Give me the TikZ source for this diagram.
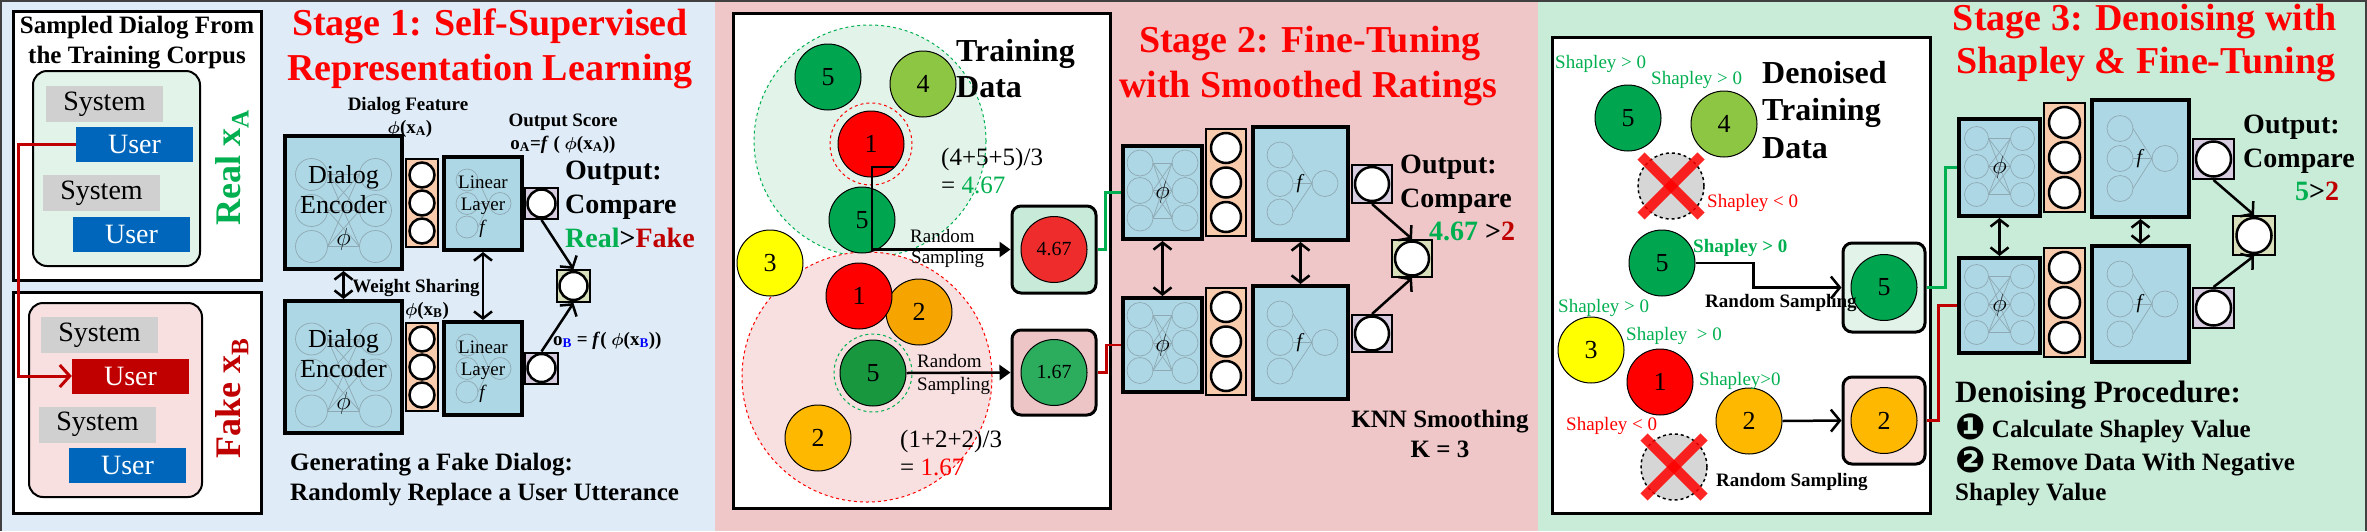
\documentclass[tikz,border=0pt]{standalone}
\usepackage{amsmath}
\usepackage{fontspec}
\setmainfont{Liberation Serif}
\newfontfamily\symfont{DejaVu Sans}
\usetikzlibrary{arrows.meta,calc}

\definecolor{bgone}{HTML}{DFECF7}
\definecolor{bgtwo}{HTML}{EFC7C8}
\definecolor{bgthree}{HTML}{C9ECD9}
\definecolor{mint}{HTML}{E2F4EA}
\definecolor{blush}{HTML}{F8E0E0}
\definecolor{sysgray}{HTML}{D0D0D0}
\definecolor{userblue}{HTML}{0066BB}
\definecolor{darkred}{HTML}{C00000}
\definecolor{okgreen}{HTML}{00B050}
\definecolor{titlered}{HTML}{FF0000}
\definecolor{encblue}{HTML}{ADD7E4}
\definecolor{vecorange}{HTML}{F8CBAD}
\definecolor{outlilac}{HTML}{D8CCE0}
\definecolor{cmpolive}{HTML}{D7DFBB}
\definecolor{netgray}{HTML}{8FA9B4}
\definecolor{rate5}{HTML}{00A64F}
\definecolor{rate5b}{HTML}{18973F}
\definecolor{rate4}{HTML}{8DC643}
\definecolor{rate3}{HTML}{FFFF00}
\definecolor{rate2}{HTML}{F6A500}
\definecolor{rate2b}{HTML}{FFB800}
\definecolor{rate1}{HTML}{FF0000}
\definecolor{smoothred}{HTML}{EE2C2C}
\definecolor{smoothgreen}{HTML}{2CAD5E}
\definecolor{mintbox}{HTML}{C7EBD8}
\definecolor{pinkbox}{HTML}{EDC5C6}

\newcommand\fs[2]{\fontsize{#1}{#2}\selectfont}
\newcommand\titlefont{\fs{38}{38}\bfseries}
\newcommand\blk[6]{\node[#1, minimum width=#5pt, minimum height=#6pt] (#2) at (#3,#4) {};}
\newcommand\encnet[5]{%
  \begin{scope}[shift={(#1.center)}]
    \foreach \i in {-1,0,1} {
      \draw[netline] (-#2,{#5+(\i)*#3}) circle (#4pt);
      \draw[netline] (#2,{#5+(\i)*#3}) circle (#4pt);
      \foreach \j in {-1,0,1}
        \draw[netline] ({-#2+#4},{#5+(\i)*#3}) -- ({#2-#4},{#5+(\j)*#3});
    }
  \end{scope}}
\newcommand\linnet[5]{%
  \begin{scope}[shift={(#1.center)}]
    \draw[netline] (#3,0) circle (#5pt);
    \foreach \i in {-1,0,1} {
      \draw[netline] (-#2,{(\i)*#4}) circle (#5pt);
      \draw[netline] ({-#2+#5},{(\i)*#4}) -- ({#3-#5},0);
    }
  \end{scope}}
\newcommand\vecballs[3]{%
  \foreach \k in {-1,0,1}
    \draw[vball] ([shift={(0,\k*#2)}]#1.center) circle (#3pt);}

\tikzset{
  txt/.style={inner sep=0pt, anchor=base},
  txtl/.style={inner sep=0pt, anchor=base west},
  framebox/.style={draw, line width=3pt, fill=white, inner sep=0pt},
  dialog/.style={draw, line width=2pt, rounded corners=14pt, inner sep=0pt},
  sysbox/.style={fill=sysgray, minimum width=117pt, minimum height=36pt, inner sep=0pt, font=\fs{28}{28}},
  userbox/.style={fill=userblue, text=white, minimum width=117pt, minimum height=35pt, inner sep=0pt, font=\fs{28}{28}},
  encbox/.style={draw, line width=4pt, fill=encblue, inner sep=0pt},
  vecbox/.style={draw, line width=1.5pt, fill=vecorange, inner sep=0pt},
  outbox/.style={draw, line width=2pt, fill=outlilac, inner sep=0pt},
  cmpbox/.style={draw, line width=2pt, fill=cmpolive, inner sep=0pt},
  pickbox/.style={draw, line width=3pt, rounded corners=9pt, inner sep=0pt},
  vball/.style={draw, line width=2.5pt, fill=white},
  netline/.style={draw=netgray, line width=0.7pt},
  ball/.style={circle, draw, line width=1pt, minimum size=66pt, inner sep=0pt, font=\fs{26}{26}},
  gone/.style={circle, draw, dashed, line width=1.5pt, fill=black!16, minimum size=66pt, inner sep=0pt},
  crossx/.style={draw=rate1, line width=10pt, opacity=.85},
  ring/.style={circle, dashed, line width=1pt, inner sep=0pt},
  shp/.style={txtl, font=\fs{19}{19}, text=okgreen},
  shn/.style={txtl, font=\fs{19}{19}, text=rate1},
  replacearrow/.style={draw=darkred, line width=3pt, -{Straight Barb[length=10pt,width=22pt]}},
  flow/.style={line width=2.5pt, -{Straight Barb[length=8pt,width=20pt]}},
  dbl/.style={line width=2.5pt, {Straight Barb[length=7pt,width=18pt]}-{Straight Barb[length=7pt,width=18pt]}},
  sample/.style={line width=2.5pt, -{Triangle[length=11pt,width=15pt]}},
  pick/.style={line width=2.5pt, -{Straight Barb[length=9pt,width=22pt]}},
  linkg/.style={draw=okgreen, line width=2.5pt},
  linkr/.style={draw=darkred, line width=2.5pt},
}

\begin{document}
\begin{tikzpicture}[x=1pt, y=-1pt]
\useasboundingbox (0,0) rectangle (2367,531);

% backgrounds of the three stages
\fill[bgone] (0,0) rectangle (715,531);
\fill[bgtwo] (715,0) rectangle (1538,531);
\fill[bgthree] (1538,0) rectangle (2367,531);
\draw[black!75, line width=2pt] (1,531) -- (1,1) -- (2366,1) -- (2366,531);

% ---------- Stage 1 ----------
\blk{framebox}{corpus}{137}{145.5}{248}{269}
\node[txt, font=\fs{25}{25}\bfseries] (corpustop) at (137,33) {Sampled Dialog From};
\node[txt, font=\fs{25}{25}\bfseries] (corpusbot) at (137,63) {the Training Corpus};
\blk{dialog, fill=mint}{realdlg}{116.5}{168.5}{167}{195}
\node[sysbox] (sys1) at (104.5,104) {System};
\node[userbox] (usr1) at (134.5,144.5) {User};
\node[sysbox] (sys2) at (101.5,193) {System};
\node[userbox] (usr2) at (131.5,234) {User};
\node[rotate=90, inner sep=0pt, font=\fs{36}{36}\bfseries, text=okgreen] (reallbl) at (232,168) {Real x\textsubscript{A}};

\blk{framebox}{fakecorpus}{137}{402.5}{248}{221}
\blk{dialog, fill=blush}{fakedlg}{115.5}{400}{173}{194}
\node[sysbox] (sys3) at (99.5,335) {System};
\node[userbox, fill=darkred] (usr3) at (130.5,376) {User};
\node[sysbox] (sys4) at (97.5,424.5) {System};
\node[userbox] (usr4) at (127.5,465) {User};
\node[rotate=90, inner sep=0pt, font=\fs{36}{36}\bfseries, text=darkred] (fakelbl) at (232,398) {Fake x\textsubscript{B}};
\draw[replacearrow] (usr1.west) -- ++(-57,0) |- (usr3.west);

\node[txt, font=\titlefont, text=titlered] (stageonea) at (490,35) {Stage 1: Self-Supervised};
\node[txt, font=\titlefont, text=titlered] (stageoneb) at (490,80) {Representation Learning};

\blk{encbox}{enc1a}{343.5}{202.5}{117}{133}
\blk{encbox}{enc1b}{343.5}{367}{117}{132}
\encnet{enc1a}{32}{36}{16}{8}
\encnet{enc1b}{32}{36}{16}{8}
\node[txt, font=\fs{26}{26}] (enc1aw1) at (343.5,183) {Dialog};
\node[txt, font=\fs{26}{26}] (enc1aw2) at (343.5,213) {Encoder};
\node[txt, font=\fs{26}{26}] (enc1aw3) at (343.5,245) {$\phi$};
\node[txt, font=\fs{26}{26}] (enc1bw1) at (343.5,347) {Dialog};
\node[txt, font=\fs{26}{26}] (enc1bw2) at (343.5,377) {Encoder};
\node[txt, font=\fs{26}{26}] (enc1bw3) at (343.5,409) {$\phi$};

\blk{vecbox}{vec1a}{422}{203}{32}{88}
\blk{vecbox}{vec1b}{422}{367}{32}{88}
\vecballs{vec1a}{28}{12.5}
\vecballs{vec1b}{28}{12.5}

\blk{encbox}{lin1a}{483}{203.5}{78}{93}
\blk{encbox}{lin1b}{483}{368.5}{78}{93}
\linnet{lin1a}{16}{17}{23.5}{11}
\linnet{lin1b}{16}{17}{23.5}{11}
\node[txt, font=\fs{19}{19}] (lin1aw1) at (483,188) {Linear};
\node[txt, font=\fs{19}{19}] (lin1aw2) at (483,210) {Layer};
\node[txt, font=\fs{19}{19}] (lin1aw3) at (483,233) {\textit{f}};
\node[txt, font=\fs{19}{19}] (lin1bw1) at (483,353) {Linear};
\node[txt, font=\fs{19}{19}] (lin1bw2) at (483,375) {Layer};
\node[txt, font=\fs{19}{19}] (lin1bw3) at (483,398) {\textit{f}};

\blk{outbox}{out1a}{541.5}{203.5}{33}{31}
\blk{outbox}{out1b}{541.5}{368}{33}{31}
\blk{cmpbox}{cmp1}{573.5}{286}{33}{32}
\draw[vball] (out1a.center) circle (14pt);
\draw[vball] (out1b.center) circle (14pt);
\draw[vball] (cmp1.center) circle (14pt);
\draw[flow] (out1a.south) -- (cmp1.north);
\draw[flow] (out1b.north) -- (cmp1.south);
\draw[dbl] (enc1a.south) -- (enc1b.north);
\draw[dbl] (lin1a.south) -- (lin1b.north);

\node[txt, font=\fs{19}{19}\bfseries] (featlbl) at (408,110) {Dialog Feature};
\node[txt, font=\fs{19}{19}\bfseries] (feata) at (410,133) {$\boldsymbol{\phi}$(x\textsubscript{A})};
\node[txt, font=\fs{19}{19}\bfseries] (sharelbl) at (416,292) {Weight Sharing};
\node[txt, font=\fs{19}{19}\bfseries] (featb) at (427,315) {$\boldsymbol{\phi}$(x\textsubscript{B})};
\node[txt, font=\fs{19}{19}\bfseries] (scorelbl) at (563,126) {Output Score};
\node[txt, font=\fs{19}{19}\bfseries] (scorea) at (563,149) {o\textsubscript{A}=\textit{f} ( $\boldsymbol{\phi}$(x\textsubscript{A}))};
\node[txtl, font=\fs{19}{19}\bfseries] (scoreb) at (553,345) {o\textsubscript{\color{blue}B} = \textit{f}( $\boldsymbol{\phi}$(x\textsubscript{\color{blue}B}))};
\node[txtl, font=\fs{28}{28}\bfseries] (outonea) at (565,179) {Output:};
\node[txtl, font=\fs{28}{28}\bfseries] (outoneb) at (565,213) {Compare};
\node[txtl, font=\fs{28}{28}\bfseries] (outonec) at (565,247) {{\color{okgreen}Real}>{\color{darkred}Fake}};
\node[txtl, font=\fs{25}{25}\bfseries] (fakea) at (290,470) {Generating a Fake Dialog:};
\node[txtl, font=\fs{25}{25}\bfseries] (fakeb) at (290,500) {Randomly Replace a User Utterance};

% ---------- Stage 2 ----------
\blk{framebox}{trainbox}{921.5}{260.5}{377}{495}
\node[circle, draw=okgreen, dashed, line width=1pt, fill=mint, minimum size=232pt] (nbhigh) at (870,141) {};
\node[circle, draw=rate1, dashed, line width=1pt, fill=blush, minimum size=250pt] (nblow) at (867,377) {};
\node[txtl, font=\fs{32}{32}\bfseries] (traina) at (956,61) {Training};
\node[txtl, font=\fs{32}{32}\bfseries] (trainb) at (956,97) {Data};
\node[ball, fill=rate5] (a5) at (828,77) {5};
\node[ball, fill=rate4] (a4) at (923,84) {4};
\node[ring, draw=rate1, minimum size=82pt] (ringa) at (871,144) {};
\node[ball, fill=rate1] (a1) at (871,144) {1};
\node[ball, fill=rate5] (a5b) at (862,220) {5};
\node[ball, fill=rate3] (a3) at (770,263) {3};
\node[ball, fill=rate2] (b2) at (919,312) {2};
\node[ball, fill=rate1] (b1) at (859,296) {1};
\node[ring, draw=okgreen, minimum size=78pt] (ringb) at (873,373) {};
\node[ball, fill=rate5b] (b5) at (873,373) {5};
\node[ball, fill=rate2b] (b2b) at (818,438) {2};
\node[txtl, font=\fs{25}{25}] (avghigha) at (941,165) {(4+5+5)/3};
\node[txtl, font=\fs{25}{25}] (avghighb) at (941,193) {= {\color{okgreen}4.67}};
\node[txtl, font=\fs{25}{25}] (avglowa) at (900,447) {(1+2+2)/3};
\node[txtl, font=\fs{25}{25}] (avglowb) at (900,475) {= {\color{rate1}1.67}};

\blk{pickbox, fill=mintbox}{p467}{1054}{249.5}{84}{87}
\blk{pickbox, fill=pinkbox}{p167}{1054}{372.5}{84}{85}
\node[ball, fill=smoothred, font=\fs{20}{20}] (r467) at (p467) {4.67};
\node[ball, fill=smoothgreen, font=\fs{20}{20}] (r167) at (p167) {1.67};
\coordinate (a1s) at ([shift={(23,23)}]a1.center);
\draw[sample] (a1s) -- ++(-22,0) |- (p467.west);
\draw[sample] (b5.east) -- (p167.west);
\node[txtl, font=\fs{19}{19}] (rsa1) at (910,242) {Random};
\node[txtl, font=\fs{19}{19}] (rsa2) at (911,263) {Sampling};
\node[txtl, font=\fs{19}{19}] (rsb1) at (917,367) {Random};
\node[txtl, font=\fs{19}{19}] (rsb2) at (917,390) {Sampling};

\node[txt, font=\titlefont, text=titlered] (stagetwoa) at (1310,52) {Stage 2: Fine-Tuning};
\node[txt, font=\titlefont, text=titlered] (stagetwob) at (1308,97) {with Smoothed Ratings};

\blk{encbox}{enc2a}{1162.5}{192.5}{79}{93}
\blk{encbox}{enc2b}{1162.5}{345}{79}{94}
\encnet{enc2a}{22.5}{27.5}{13}{-2}
\encnet{enc2b}{22.5}{27.5}{13}{-2}
\node[font=\fs{26}{26}, inner sep=0pt] (enc2aw) at (enc2a) {$\phi$};
\node[font=\fs{26}{26}, inner sep=0pt] (enc2bw) at (enc2b) {$\phi$};
\blk{vecbox}{vec2a}{1226}{182.5}{40}{107}
\blk{vecbox}{vec2b}{1226}{341.5}{40}{107}
\vecballs{vec2a}{34.5}{15}
\vecballs{vec2b}{34.5}{15}
\blk{encbox}{lin2a}{1300.5}{183.5}{95}{113}
\blk{encbox}{lin2b}{1300.5}{342.5}{95}{113}
\linnet{lin2a}{20.5}{24.5}{28.5}{13}
\linnet{lin2b}{20.5}{24.5}{28.5}{13}
\node[font=\fs{20}{20}, inner sep=0pt] (lin2aw) at (lin2a) {\textit{f}};
\node[font=\fs{20}{20}, inner sep=0pt] (lin2bw) at (lin2b) {\textit{f}};
\blk{outbox}{out2a}{1372}{184}{40}{38}
\blk{outbox}{out2b}{1372}{333.5}{40}{37}
\blk{cmpbox}{cmp2}{1412}{258.5}{40}{37}
\draw[vball] (out2a.center) circle (17pt);
\draw[vball] (out2b.center) circle (17pt);
\draw[vball] (cmp2.center) circle (17pt);
\draw[flow] (out2a.south) -- (cmp2.north);
\draw[flow] (out2b.north) -- (cmp2.south);
\draw[dbl] (enc2a.south) -- (enc2b.north);
\draw[dbl] (lin2a.south) -- (lin2b.north);
\draw[linkg] (p467.east) -- ++(8,0) |- (enc2a.west);
\draw[linkr] (p167.east) -- ++(9,0) |- (enc2b.west);
\node[txtl, font=\fs{28}{28}\bfseries] (outtwoa) at (1400,173) {Output:};
\node[txtl, font=\fs{28}{28}\bfseries] (outtwob) at (1400,207) {Compare};
\node[txtl, font=\fs{28}{28}\bfseries] (outtwoc) at (1429,240) {{\color{okgreen}4.67} >{\color{darkred}2}};
\node[txt, font=\fs{25}{25}\bfseries] (knna) at (1440,427) {KNN Smoothing};
\node[txt, font=\fs{25}{25}\bfseries] (knnb) at (1440,457) {K = 3};

% ---------- Stage 3 ----------
\blk{framebox}{cleanbox}{1741}{275}{378}{476}
\node[txtl, font=\fs{32}{32}\bfseries] (cleana) at (1762,83) {Denoised};
\node[txtl, font=\fs{32}{32}\bfseries] (cleanb) at (1762,120) {Training};
\node[txtl, font=\fs{32}{32}\bfseries] (cleanc) at (1762,158) {Data};
\node[ball, fill=rate5] (d5) at (1628,118) {5};
\node[ball, fill=rate4] (d4) at (1724,124) {4};
\node[gone] (dx1) at (1671,186) {};
\node[ball, fill=rate5] (d5b) at (1662,263) {5};
\node[ball, fill=rate3] (d3) at (1591,350) {3};
\node[ball, fill=rate1] (d1) at (1660,382) {1};
\node[ball, fill=rate2b] (d2) at (1749,421) {2};
\node[gone] (dx2) at (1674,467) {};
\foreach \c in {dx1,dx2} {
  \draw[crossx] ([shift={(-30,-30)}]\c.center) -- ([shift={(30,30)}]\c.center);
  \draw[crossx] ([shift={(-30,30)}]\c.center) -- ([shift={(30,-30)}]\c.center);
}
\node[shp] (sv1) at (1555,68) {Shapley > 0};
\node[shp] (sv2) at (1651,84) {Shapley > 0};
\node[shn] (sv3) at (1707,207) {Shapley < 0};
\node[shp, font=\fs{19}{19}\bfseries] (sv4) at (1693,252) {Shapley > 0};
\node[shp] (sv5) at (1558,312) {Shapley > 0};
\node[shp] (sv6) at (1626,340) {Shapley \ > 0};
\node[shp] (sv7) at (1699,385) {Shapley>0};
\node[shn] (sv8) at (1566,430) {Shapley < 0};

\blk{pickbox, fill=mint}{q5}{1884}{287.5}{82}{89}
\blk{pickbox, fill=blush}{q2}{1884}{420.5}{82}{87}
\node[ball, fill=rate5] (e5) at (q5) {5};
\node[ball, fill=rate2b] (e2) at (q2) {2};
\draw[pick] (d5b.east) -- ++(58,0) |- (q5.west);
\draw[pick] (d2.east) -- (q2.west);
\node[txtl, font=\fs{19}{19}\bfseries] (rsc) at (1705,307) {Random Sampling};
\node[txtl, font=\fs{19}{19}\bfseries] (rsd) at (1716,486) {Random Sampling};

\node[txt, font=\titlefont, text=titlered] (stagethreea) at (2145,30) {Stage 3: Denoising with};
\node[txt, font=\titlefont, text=titlered] (stagethreeb) at (2146,73) {Shapley \& Fine-Tuning};

\blk{encbox}{enc3a}{1999.5}{167.5}{81}{97}
\blk{encbox}{enc3b}{1999.5}{305.5}{81}{95}
\encnet{enc3a}{23}{28}{12}{-1}
\encnet{enc3b}{23}{28}{12}{-1}
\node[font=\fs{26}{26}, inner sep=0pt] (enc3aw) at (enc3a) {$\phi$};
\node[font=\fs{26}{26}, inner sep=0pt] (enc3bw) at (enc3b) {$\phi$};
\blk{vecbox}{vec3a}{2064.5}{157.5}{41}{109}
\blk{vecbox}{vec3b}{2064.5}{302.5}{41}{109}
\vecballs{vec3a}{35}{15.5}
\vecballs{vec3b}{35}{15.5}
\blk{encbox}{lin3a}{2140.5}{158.5}{97}{117}
\blk{encbox}{lin3b}{2140.5}{304}{97}{116}
\linnet{lin3a}{20.5}{24.5}{30}{13}
\linnet{lin3b}{20.5}{24.5}{30}{13}
\node[font=\fs{20}{20}, inner sep=0pt] (lin3aw) at (lin3a) {\textit{f}};
\node[font=\fs{20}{20}, inner sep=0pt] (lin3bw) at (lin3b) {\textit{f}};
\blk{outbox}{out3a}{2213.5}{159}{41}{40}
\blk{outbox}{out3b}{2213.5}{308}{41}{40}
\blk{cmpbox}{cmp3}{2254}{235.5}{42}{39}
\draw[vball] (out3a.center) circle (17.5pt);
\draw[vball] (out3b.center) circle (17.5pt);
\draw[vball] (cmp3.center) circle (17.5pt);
\draw[flow] (out3a.south) -- (cmp3.north);
\draw[flow] (out3b.north) -- (cmp3.south);
\draw[dbl] (enc3a.south) -- (enc3b.north);
\draw[dbl] (lin3a.south) -- (lin3b.north);
\draw[linkg] (q5.east) -- ++(19,0) |- (enc3a.west);
\draw[linkr] (q2.east) -- ++(12,0) |- (enc3b.west);
\node[txtl, font=\fs{28}{28}\bfseries] (outthreea) at (2243,133) {Output:};
\node[txtl, font=\fs{28}{28}\bfseries] (outthreeb) at (2243,167) {Compare};
\node[txtl, font=\fs{28}{28}\bfseries] (outthreec) at (2295,200) {{\color{okgreen}5}>{\color{darkred}2}};

\node[txtl, font=\fs{31}{31}\bfseries] (procta) at (1955,402) {Denoising Procedure:};
\node[txtl, font=\fs{25}{25}\bfseries] (proctb) at (1955,437) {\smash{\raisebox{-2pt}{\symfont\fs{36}{36}❶}} Calculate Shapley Value};
\node[txtl, font=\fs{25}{25}\bfseries] (proctc) at (1955,470) {\smash{\raisebox{-2pt}{\symfont\fs{36}{36}❷}} Remove Data With Negative};
\node[txtl, font=\fs{25}{25}\bfseries] (proctd) at (1955,500) {Shapley Value};
\end{tikzpicture}
\end{document}
